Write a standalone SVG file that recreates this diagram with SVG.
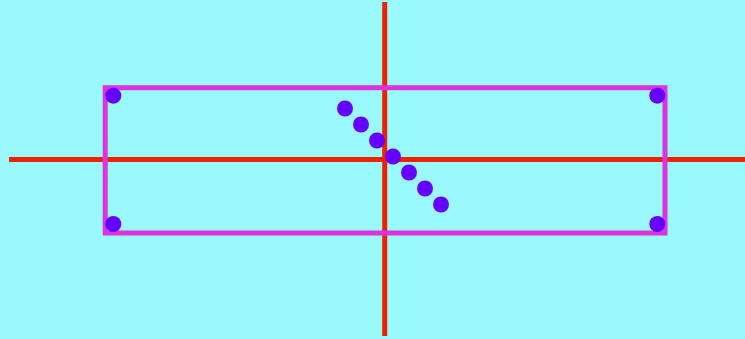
<svg xmlns="http://www.w3.org/2000/svg" width="745" height="339" viewBox="0 0 745 339">
<style>
.axis{stroke:#ee2200;stroke-width:5;fill:none}
.box{stroke:#dd33dd;stroke-width:5;fill:none}
.dot{fill:#6600ff}
</style>
<rect x="0" y="0" width="745" height="339" fill="#99f9fd"/>
<g id="connectors">
<line class="axis" x1="9" y1="159.5" x2="745" y2="159.5"/>
<line class="axis" x1="384.7" y1="2" x2="384.7" y2="336"/>
</g>
<g id="rect"><rect class="box" x="105.2" y="87.7" width="559.8" height="145.3"/></g>
<g id="corners">
<circle class="dot" cx="113.3" cy="95.7" r="8"/>
<circle class="dot" cx="657.3" cy="95.7" r="8"/>
<circle class="dot" cx="113.3" cy="224" r="8"/>
<circle class="dot" cx="657.3" cy="224" r="8"/>
</g>
<g id="diagonal">
<circle class="dot" cx="345" cy="108.5" r="8"/>
<circle class="dot" cx="361" cy="124.5" r="8"/>
<circle class="dot" cx="377" cy="140.5" r="8"/>
<circle class="dot" cx="393" cy="156.5" r="8"/>
<circle class="dot" cx="409" cy="172.5" r="8"/>
<circle class="dot" cx="425" cy="188.5" r="8"/>
<circle class="dot" cx="441" cy="204.5" r="8"/>
</g>
</svg>
